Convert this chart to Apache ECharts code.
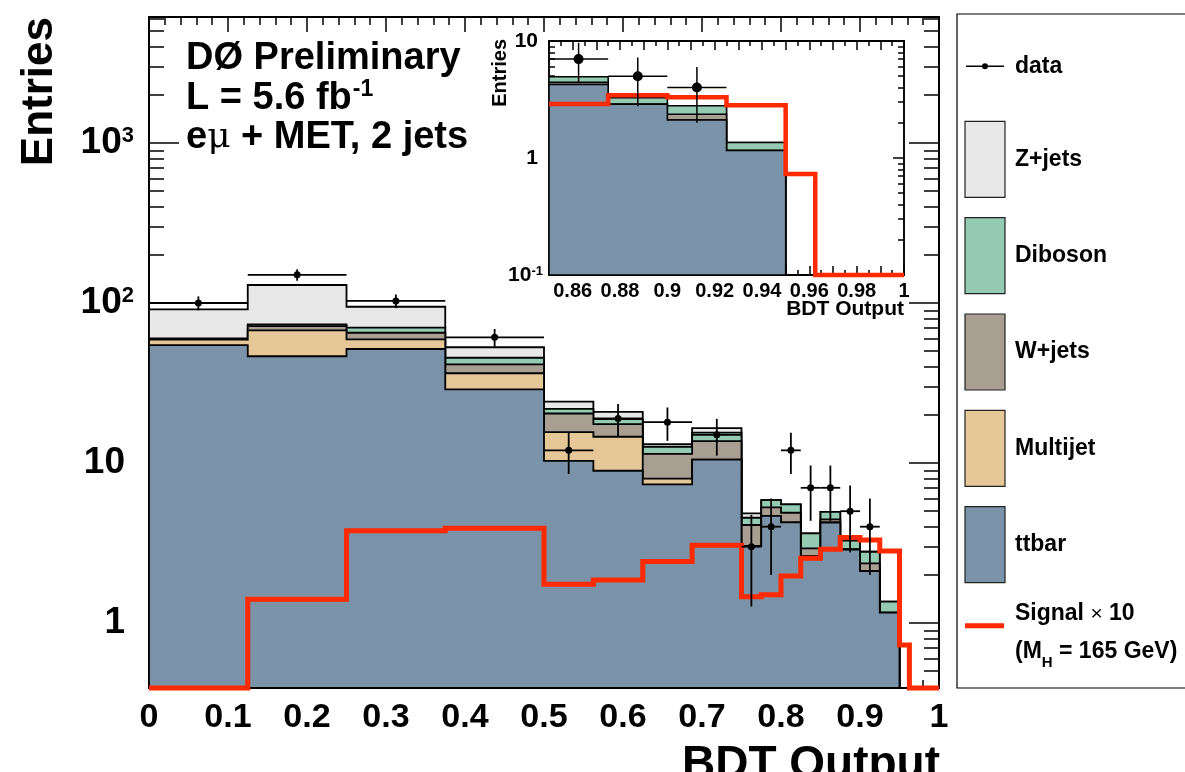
<!DOCTYPE html>
<html>
<head>
<meta charset="utf-8">
<title>BDT Output – eμ + MET, 2 jets</title>
<script src="https://cdn.jsdelivr.net/npm/echarts@6/dist/echarts.min.js"></script>
<style>
  html, body { margin: 0; padding: 0; background: #fff; }
  #chart { width: 1185px; height: 772px; }
</style>
</head>
<body>
<div id="chart"></div>
<script>
// ---- Histogram content -------------------------------------------------
// Bin edges of the BDT output distribution (variable width bins)
const binEdges = [0, 0.125, 0.25, 0.375, 0.5, 0.5625, 0.625, 0.6875, 0.75,
                  0.775, 0.8, 0.825, 0.85, 0.875, 0.9, 0.925, 0.95, 0.9625, 1];

// Background expectations per bin, stacked from bottom to top
const ttbar    = [54.5, 46.5, 51.6, 28.9, 10.3, 8.95, 7.36, 10.5, 3.03, 4.68, 4.26, 2.62, 4.25, 2.88, 2.11, 1.16, 0, 0];
const multijet = [4.5, 21.0, 7.7, 7.5, 5.3, 5.65, 0.64, 0, 0, 0, 0, 0, 0, 0, 0, 0, 0, 0];
const wjets    = [0.6, 4.3, 5.9, 5.0, 4.8, 2.9, 3.4, 3.2, 1.07, 0.6, 0.63, 0.31, 0.2, 0, 0.25, 0, 0, 0];
const diboson  = [0.5, 1.8, 4.9, 4.1, 1.4, 1.3, 1.2, 1.8, 0.45, 0.59, 0.63, 0.7, 0.5, 0.4, 0.43, 0.2, 0, 0];
const zjets    = [31.2, 56.0, 24.7, 7.4, 2.4, 2.1, 0.5, 1.0, 0.3, 0, 0, 0, 0, 0, 0, 0, 0, 0];

// Higgs signal (M_H = 165 GeV), scaled by 10
const signalX10 = [0, 1.41, 3.78, 3.91, 1.75, 1.86, 2.42, 3.06, 1.46, 1.50, 1.97, 2.54, 2.89, 3.43, 3.30, 2.82, 0.73, 0];

// Observed events
const dataCounts = [100, 150, 103, 61, 12, 19, 18, 15, 3, 4, 12, 7, 7, 5, 4, 0, 0, 0];

// Legend entries and tick labels
const stackNames = ['ttbar', 'Multijet', 'W+jets', 'Diboson', 'Z+jets'];
const mainXLabels = [0, 0.1, 0.2, 0.3, 0.4, 0.5, 0.6, 0.7, 0.8, 0.9, 1];
const mainYLabels = [1, 10, 100, 1000];
const insetXLabels = [0.86, 0.88, 0.9, 0.92, 0.94, 0.96, 0.98, 1];
const insetYLabels = [0.1, 1, 10];

// ---- Styling -----------------------------------------------------------
const FONT = '"Liberation Sans", Arial, Helvetica, sans-serif';
const stackColors = ['#7b93a8', '#e6c797', '#a99e92', '#95cbb2', '#e8e8e8'];
const SIGNAL_RED = '#ff2a00';

const MAIN_Y = [0.3926, 6131];
const INSET_X = [0.85, 1];
const INSET_Y = [0.1, 10];

const nBins = binEdges.length - 1;
const components = [ttbar, multijet, wjets, diboson, zjets];
const cumulative = [];
(function () {
  let run = new Array(nBins).fill(0);
  components.forEach(function (c) {
    run = run.map(function (v, i) { return v + c[i]; });
    cumulative.push(run);
  });
})();

function clamp(v, lo, hi) { return Math.min(Math.max(v, lo), hi); }

// Step outline of a binned quantity, as pixel points
function stepPoints(api, values, startIdx, yr) {
  const pts = [];
  for (let i = startIdx; i < nBins; i++) {
    const v = clamp(values[i], yr[0], yr[1]);
    pts.push(api.coord([binEdges[i], v]));
    pts.push(api.coord([binEdges[i + 1], v]));
  }
  return pts;
}

function firstBin(xMin) {
  for (let i = 0; i < nBins; i++) if (binEdges[i] >= xMin - 1e-9) return i;
  return nBins;
}

// Stacked backgrounds: each cumulative sum drawn as a filled outline,
// largest first so that lower components are painted over it
function stackSeries(xi, yi, xMin, yr, lw) {
  const start = firstBin(xMin);
  return {
    type: 'custom', xAxisIndex: xi, yAxisIndex: yi, clip: true, silent: true, z: 2,
    data: [4, 3, 2, 1, 0].map(function (k) { return [binEdges[start], yr[0], k]; }),
    renderItem: function (params, api) {
      const k = api.value(2);
      const pts = stepPoints(api, cumulative[k], start, yr);
      pts.unshift(api.coord([binEdges[start], yr[0]]));
      pts.push(api.coord([binEdges[nBins], yr[0]]));
      return {
        type: 'polygon', shape: { points: pts },
        style: { fill: stackColors[k], stroke: '#000', lineWidth: lw, lineJoin: 'miter' }
      };
    }
  };
}

function signalSeries(xi, yi, xMin, yr, lw) {
  const start = firstBin(xMin);
  return {
    type: 'custom', xAxisIndex: xi, yAxisIndex: yi, silent: true, z: 3,
    data: [[binEdges[start], yr[0]]],
    renderItem: function (params, api) {
      return {
        type: 'polyline', shape: { points: stepPoints(api, signalX10, start, yr) },
        style: { stroke: SIGNAL_RED, lineWidth: lw, fill: null, lineJoin: 'miter' }
      };
    }
  };
}

// Data points with Poisson errors and bin-width horizontal bars
function dataSeries(xi, yi, xMin, yr, lw, rad) {
  const pts = [];
  for (let i = 0; i < nBins; i++) {
    if (dataCounts[i] > 0 && binEdges[i] >= xMin - 1e-9) {
      pts.push([(binEdges[i] + binEdges[i + 1]) / 2, dataCounts[i], binEdges[i], binEdges[i + 1]]);
    }
  }
  return {
    type: 'custom', xAxisIndex: xi, yAxisIndex: yi, silent: true, z: 4,
    data: pts,
    renderItem: function (params, api) {
      const x = api.value(0), n = api.value(1), lo = api.value(2), hi = api.value(3);
      const err = Math.sqrt(n);
      const c = api.coord([x, n]);
      const l = api.coord([lo, n]);
      const r = api.coord([hi, n]);
      const t = api.coord([x, clamp(n + err, yr[0], yr[1])]);
      const b = api.coord([x, clamp(n - err, yr[0], yr[1])]);
      const st = { stroke: '#000', lineWidth: lw };
      return {
        type: 'group', children: [
          { type: 'line', shape: { x1: l[0], y1: l[1], x2: r[0], y2: r[1] }, style: st },
          { type: 'line', shape: { x1: t[0], y1: t[1], x2: b[0], y2: b[1] }, style: st },
          { type: 'circle', shape: { cx: c[0], cy: c[1], r: rad }, style: { fill: '#000' } }
        ]
      };
    }
  };
}

// Decade labels with superscript exponents
function decadeLabel(v) {
  const e = Math.round(Math.log10(v));
  if (e === 0) return '{b|1}{p|}';
  if (e === 1) return '{b|10}{p|}';
  return '{b|10}{s|' + e + '}';
}

function minorLogTicks(lo, hi) {
  const out = [];
  for (let e = -3; e <= 5; e++) {
    for (let m = 2; m <= 9; m++) {
      const v = +(m * Math.pow(10, e)).toPrecision(6);
      if (v >= lo && v <= hi) out.push(v);
    }
  }
  return out;
}

const blackLine = function (w) { return { show: true, lineStyle: { color: '#000', width: w } }; };

function xAxisDef(grid, pos, range, opts) {
  return Object.assign({
    type: 'value', gridIndex: grid, position: pos, min: range[0], max: range[1],
    axisLine: blackLine(2), splitLine: { show: false },
    axisTick: { show: true, inside: true, length: opts.major, lineStyle: { color: '#000', width: 1.5 } },
    minorTick: { show: true, splitNumber: opts.split, length: opts.minor, lineStyle: { color: '#000', width: 1.5 } },
    axisLabel: { show: false }
  }, opts.extra || {});
}

function yAxisDef(grid, pos, range, ticks, len, extra) {
  return Object.assign({
    type: 'log', logBase: 10, gridIndex: grid, position: pos, min: range[0], max: range[1],
    axisLine: { show: false }, splitLine: { show: false }, minorTick: { show: false },
    axisTick: { show: true, inside: true, length: len, customValues: ticks, lineStyle: { color: '#000', width: 1.5 } },
    axisLabel: { show: false }
  }, extra || {});
}

const mainMinor = minorLogTicks(MAIN_Y[0], MAIN_Y[1]);
const insetMinor = minorLogTicks(INSET_Y[0], INSET_Y[1]);

const option = {
  animation: false,
  backgroundColor: '#fff',
  grid: [
    { left: 149, top: 17, width: 790, height: 671, show: true, borderColor: '#000', borderWidth: 2, backgroundColor: 'rgba(0,0,0,0)' },
    { left: 549, top: 41, width: 355, height: 234, show: true, borderColor: '#000', borderWidth: 1.5, backgroundColor: '#fff' }
  ],
  xAxis: [
    xAxisDef(0, 'bottom', [0, 1], { major: 15, minor: 8, split: 5, extra: {
      interval: 0.1,
      axisLabel: { show: true, customValues: mainXLabels, margin: 13, color: '#000', fontSize: 34, fontWeight: 'bold', fontFamily: FONT }
    } }),
    xAxisDef(0, 'top', [0, 1], { major: 15, minor: 8, split: 5, extra: { interval: 0.1 } }),
    xAxisDef(1, 'bottom', INSET_X, { major: 9, minor: 5, split: 2, extra: {
      interval: 0.01,
      axisLabel: { show: true, customValues: insetXLabels, margin: 6, color: '#000', fontSize: 20, fontWeight: 'bold', fontFamily: FONT,
        formatter: function (v) { return String(+(+v).toFixed(2)); } }
    } }),
    xAxisDef(1, 'top', INSET_X, { major: 9, minor: 5, split: 2, extra: { interval: 0.01 } })
  ],
  yAxis: [
    yAxisDef(0, 'left', MAIN_Y, mainYLabels, 30, {
      axisLine: blackLine(2),
      axisLabel: { show: true, customValues: mainYLabels, margin: 15, formatter: decadeLabel,
        rich: {
          b: { fontSize: 37, fontWeight: 'bold', color: '#000', fontFamily: FONT },
          s: { fontSize: 22, fontWeight: 'bold', color: '#000', fontFamily: FONT, verticalAlign: 'top' },
          p: { width: 9 }
        } }
    }),
    yAxisDef(0, 'left', MAIN_Y, mainMinor, 15),
    yAxisDef(0, 'right', MAIN_Y, mainYLabels, 30, { axisLine: blackLine(2) }),
    yAxisDef(0, 'right', MAIN_Y, mainMinor, 15),
    yAxisDef(1, 'left', INSET_Y, insetYLabels, 11, {
      axisLine: blackLine(1.5),
      axisLabel: { show: true, customValues: insetYLabels, margin: 6, formatter: decadeLabel,
        rich: {
          b: { fontSize: 21, fontWeight: 'bold', color: '#000', fontFamily: FONT },
          s: { fontSize: 13, fontWeight: 'bold', color: '#000', fontFamily: FONT, verticalAlign: 'top' },
          p: { width: 5 }
        } }
    }),
    yAxisDef(1, 'left', INSET_Y, insetMinor, 6),
    yAxisDef(1, 'right', INSET_Y, insetYLabels, 11, { axisLine: blackLine(1.5) }),
    yAxisDef(1, 'right', INSET_Y, insetMinor, 6)
  ],
  series: [
    stackSeries(0, 0, 0, MAIN_Y, 1.8),
    signalSeries(0, 0, 0, MAIN_Y, 5),
    dataSeries(0, 0, 0, MAIN_Y, 1.8, 3.5),
    stackSeries(2, 4, INSET_X[0], INSET_Y, 1.5),
    signalSeries(2, 4, INSET_X[0], INSET_Y, 4.5),
    dataSeries(2, 4, INSET_X[0], INSET_Y, 1.5, 5)
  ],
  graphic: []
};

// ---- Annotations, axis titles and legend ------------------------------
const g = option.graphic;
const txt = function (x, y, text, size, extra) {
  return Object.assign({
    type: 'text', x: x, y: y, z: 20,
    style: Object.assign({ text: text, fill: '#000', font: 'bold ' + size + 'px ' + FONT, verticalAlign: 'middle' }, extra && extra.style)
  }, extra && extra.el);
};

g.push({
  type: 'text', x: 186, y: 39, z: 20,
  style: {
    text: '{t|DØ Preliminary}\n{t|L = 5.6 fb}{sup|-1}\n{t|e}{mu|μ}{t| + MET, 2 jets}',
    lineHeight: 39.5,
    rich: {
      t: { fontSize: 38, fontWeight: 'bold', fontFamily: FONT, fill: '#000', lineHeight: 39.5 },
      sup: { fontSize: 23, fontWeight: 'bold', fontFamily: FONT, fill: '#000', verticalAlign: 'top', lineHeight: 39.5, padding: [0, 0, 0, 1] },
      mu: { fontSize: 36, fontWeight: 'normal', fontFamily: '"DejaVu Serif", "Liberation Serif", serif', fill: '#000', lineHeight: 39.5 }
    }
  }
});

// Axis titles
g.push(txt(40, 17, 'Entries', 44, { el: { rotation: Math.PI / 2 }, style: { align: 'right' } }));
g.push(txt(940, 742, 'BDT Output', 46, { style: { align: 'right', verticalAlign: 'top' } }));
g.push(txt(500, 39, 'Entries', 20, { el: { rotation: Math.PI / 2 }, style: { align: 'right' } }));
g.push(txt(904, 309, 'BDT Output', 21, { style: { align: 'right' } }));

// Legend box
const LX = 957, LY = 14, LH = 674, ROW = LH / 7;
g.push({ type: 'rect', z: 20, shape: { x: LX, y: LY, width: 260, height: LH }, style: { fill: '#fff', stroke: '#000', lineWidth: 1.2 } });
const rowMid = function (i) { return LY + ROW * (i + 0.5); };
// data entry
g.push({ type: 'line', z: 21, shape: { x1: 966, y1: rowMid(0) + 4, x2: 1004, y2: rowMid(0) + 4 }, style: { stroke: '#000', lineWidth: 1.5 } });
g.push({ type: 'circle', z: 21, shape: { cx: 985, cy: rowMid(0) + 4, r: 3 }, style: { fill: '#000' } });
g.push(txt(1015, rowMid(0) + 5, 'data', 23));
// stacked components, top of the stack first
for (let j = 0; j < 5; j++) {
  const k = 4 - j;
  const yc = rowMid(j + 1) + 1;
  g.push({ type: 'rect', z: 21, shape: { x: 965, y: yc - 38, width: 40, height: 76 }, style: { fill: stackColors[k], stroke: '#222', lineWidth: 1.2 } });
  g.push(txt(1015, yc, stackNames[k], 23));
}
// signal entry
g.push({ type: 'line', z: 21, shape: { x1: 965, y1: rowMid(6) - 14, x2: 1004, y2: rowMid(6) - 14 }, style: { stroke: SIGNAL_RED, lineWidth: 5 } });
g.push({
  type: 'text', x: 1015, y: rowMid(6) - 45, z: 21,
  style: {
    text: '{t|Signal }{x|×}{t| 10}\n{t|(M}{sub|H}{t| = 165 GeV)}',
    verticalAlign: 'top', lineHeight: 38,
    rich: {
      t: { fontSize: 23, fontWeight: 'bold', fontFamily: FONT, fill: '#000', lineHeight: 38 },
      x: { fontSize: 21, fontWeight: 'normal', fontFamily: FONT, fill: '#000', lineHeight: 38 },
      sub: { fontSize: 15, fontWeight: 'bold', fontFamily: FONT, fill: '#000', verticalAlign: 'bottom', lineHeight: 38 }
    }
  }
});

const chart = echarts.init(document.getElementById('chart'), null, { renderer: 'canvas' });
chart.setOption(option);
</script>
</body>
</html>
